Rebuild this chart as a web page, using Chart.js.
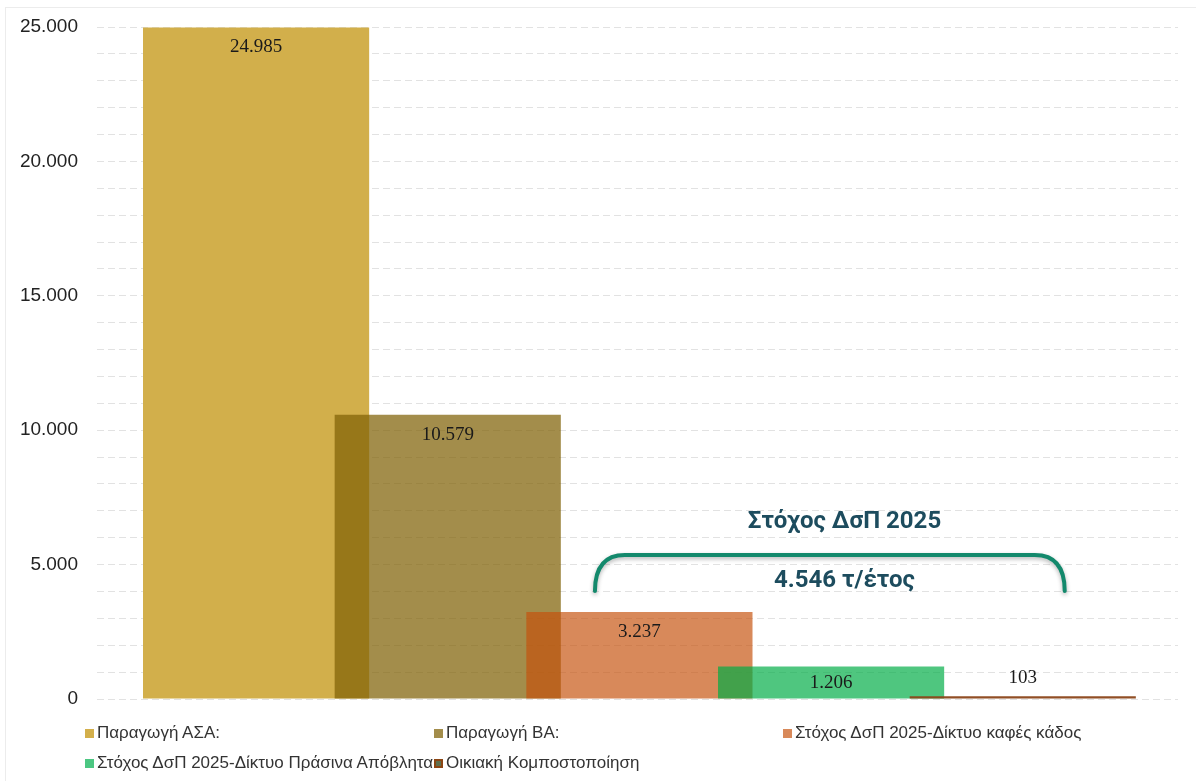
<!DOCTYPE html>
<html>
<head>
<meta charset="utf-8">
<script src="https://cdn.jsdelivr.net/npm/chart.js@4.4.1/dist/chart.umd.min.js"></script>
<style>
  html, body { margin: 0; padding: 0; background: #fff; }
  #wrap { position: relative; width: 1196px; height: 781px; overflow: hidden; font-family: "Liberation Sans", Arial, sans-serif; }
  #frame { position: absolute; left: 5px; top: 7px; right: 0; bottom: 0; border-left: 1px solid #ececec; border-top: 1px solid #ececec; }
  #chart { position: absolute; left: 0; top: 0; }
  #legend { position: absolute; left: 85px; top: 718px; width: 1100px; display: flex; flex-wrap: wrap; }
  .item { display: flex; align-items: center; min-width: 349px; height: 30px; font-size: 17px; color: #333; white-space: nowrap; }
  .sw { width: 9px; height: 9px; margin-right: 3px; box-sizing: border-box; flex: none; }
</style>
</head>
<body>
<div id="wrap">
  <div id="frame"></div>
  <canvas id="chart" width="1196" height="781"></canvas>
  <div id="legend"></div>
</div>
<script>
// ---- data ----
const categories = [
  "Παραγωγή ΑΣΑ:",
  "Παραγωγή ΒΑ:",
  "Στόχος ΔσΠ 2025-Δίκτυο καφές κάδος",
  "Στόχος ΔσΠ 2025-Δίκτυο Πράσινα Απόβλητα",
  "Οικιακή Κομποστοποίηση"
];
const values = [24985, 10579, 3237, 1206, 103];
const yTickLabels = [0, 5000, 10000, 15000, 20000, 25000];
const annotationTitle = "Στόχος ΔσΠ 2025";
const annotationValue = "4.546 τ/έτος";

// ---- styles ----
const barColors = [
  "rgb(210,175,75)",
  "rgba(127,97,5,0.72)",
  "rgba(198,81,12,0.68)",
  "rgba(0,172,69,0.69)",
  "rgba(139,70,25,0.95)"
];
const legendColors = ["#D3AF4B", "#A38D4B", "#D8895A", "#4CC782", "#5F6F4E"];
const legendBorders = [null, null, null, null, "#8B4513"];

function fmt(v) {
  return String(v).replace(/\B(?=(\d{3})+(?!\d))/g, ".");
}

const datasets = categories.map((c, i) => ({
  label: c,
  data: [{ x: i, y: values[i] }],
  backgroundColor: barColors[i],
  borderWidth: 0,
  grouped: false,
  categoryPercentage: 1,
  barPercentage: 1.18,
  order: categories.length - 1 - i
}));

const valueLabels = {
  id: "valueLabels",
  afterDatasetsDraw(chart) {
    const ctx = chart.ctx;
    ctx.save();
    ctx.font = "19px 'Liberation Serif', serif";
    ctx.fillStyle = "#1a1a1a";
    ctx.textAlign = "center";
    ctx.textBaseline = "middle";
    chart.data.datasets.forEach((ds, i) => {
      const meta = chart.getDatasetMeta(i);
      meta.data.forEach((bar) => {
        const p = bar.getProps(["x", "y", "base"], true);
        const h = p.base - p.y;
        let ly;
        if (h >= 40) ly = p.y + 20;
        else if (h >= 20) ly = (p.y + p.base) / 2;
        else ly = p.y - 18;
        ctx.fillText(fmt(values[i]), p.x, ly);
      });
    });
    ctx.restore();
  }
};

// annotation placed in data units
const brace = { x1: 1.768, x2: 4.219, textX: 3.07, yTop: 5357, yBottom: 4018, titleY: 6585, valueY: 4390 };

const bracePlugin = {
  id: "brace",
  afterDraw(chart) {
    const xs = chart.scales.x, ys = chart.scales.y, ctx = chart.ctx;
    const x1 = xs.getPixelForValue(brace.x1), x2 = xs.getPixelForValue(brace.x2);
    const yt = ys.getPixelForValue(brace.yTop), yb = ys.getPixelForValue(brace.yBottom);
    const r = 30;
    ctx.save();
    ctx.strokeStyle = "#13896C";
    ctx.lineWidth = 4;
    ctx.lineCap = "round";
    ctx.shadowColor = "rgba(0,0,0,0.3)";
    ctx.shadowBlur = 4;
    ctx.shadowOffsetY = 2;
    ctx.beginPath();
    ctx.moveTo(x1, yb);
    ctx.bezierCurveTo(x1, yt + 12, x1 + 10, yt, x1 + r, yt);
    ctx.lineTo(x2 - r, yt);
    ctx.bezierCurveTo(x2 - 10, yt, x2, yt + 12, x2, yb);
    ctx.stroke();
    ctx.restore();

    ctx.save();
    ctx.fillStyle = "#1D4C5E";
    ctx.font = "bold 24px Roboto, 'Liberation Sans', sans-serif";
    ctx.textAlign = "center";
    ctx.textBaseline = "middle";
    const cx = xs.getPixelForValue(brace.textX);
    ctx.fillText(annotationTitle, cx, ys.getPixelForValue(brace.titleY));
    ctx.fillText(annotationValue, cx, ys.getPixelForValue(brace.valueY));
    ctx.restore();
  }
};

const chart = new Chart(document.getElementById("chart"), {
  type: "bar",
  data: { datasets },
  options: {
    responsive: false,
    animation: false,
    layout: { padding: { left: 0, top: 27, right: 18, bottom: 82 } },
    plugins: { legend: { display: false }, tooltip: { enabled: false } },
    scales: {
      x: {
        type: "linear",
        min: -0.83,
        max: 4.81,
        offset: false,
        display: false,
        afterBuildTicks: (s) => { s.ticks = categories.map((_, i) => ({ value: i })); }
      },
      y: {
        min: 0,
        max: 25000,
        afterFit: (s) => { s.width = 97; s.paddingTop = 0; s.paddingBottom = 0; },
        ticks: {
          stepSize: 1000,
          autoSkip: false,
          padding: 19,
          color: "#222",
          font: { family: "'Liberation Sans', Arial, sans-serif", size: 19 },
          callback: (v) => (yTickLabels.includes(v) ? fmt(v) : "")
        },
        grid: { color: "#e2e2e2", lineWidth: 1, drawTicks: false },
        border: { display: false, dash: [7, 4] }
      }
    }
  },
  plugins: [valueLabels, bracePlugin]
});

// legend built from the chart's datasets
const lg = document.getElementById("legend");
chart.data.datasets.forEach((ds, i) => {
  const it = document.createElement("div");
  it.className = "item";
  const sw = document.createElement("span");
  sw.className = "sw";
  sw.style.background = legendColors[i];
  if (legendBorders[i]) sw.style.border = "2px solid " + legendBorders[i];
  const tx = document.createElement("span");
  tx.textContent = ds.label;
  it.appendChild(sw);
  it.appendChild(tx);
  lg.appendChild(it);
});
</script>
</body>
</html>
